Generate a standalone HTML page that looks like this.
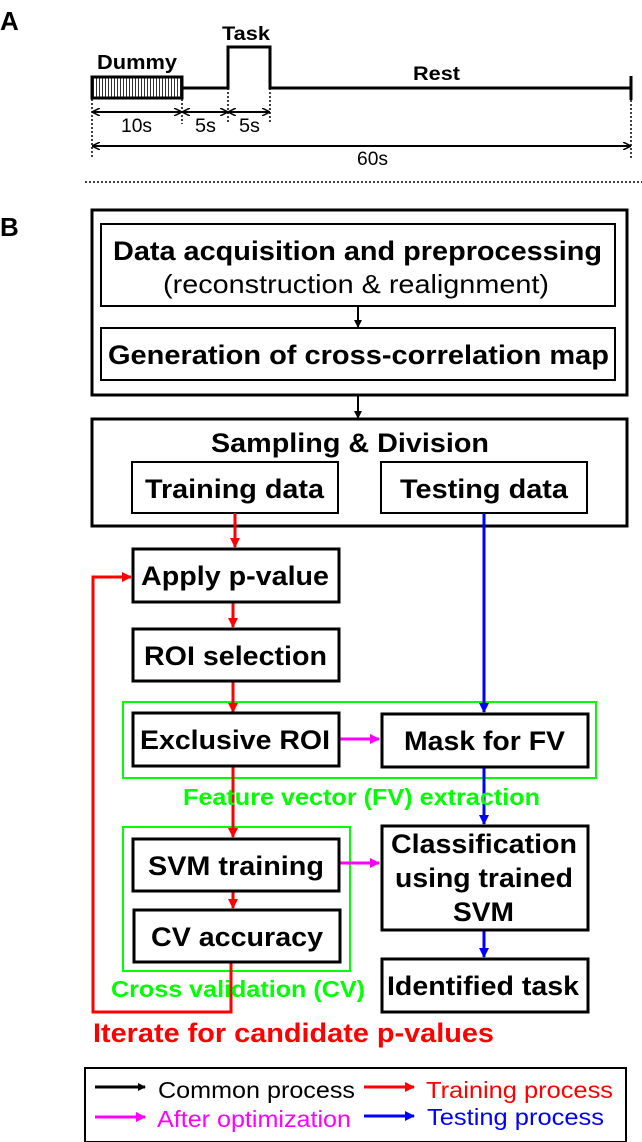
<!DOCTYPE html>
<html><head><meta charset="utf-8"><style>
html,body{margin:0;padding:0;background:#fff;}
svg{display:block;}
text{font-family:"Liberation Sans",Arial,sans-serif;}
.b{font-weight:bold;}
</style></head><body>
<svg width="642" height="1142" viewBox="0 0 642 1142" xmlns="http://www.w3.org/2000/svg">
<defs>
<pattern id="h" width="3" height="10" patternUnits="userSpaceOnUse"><rect width="3" height="10" fill="#fff"/><rect width="1" height="10" fill="#333"/></pattern>
<marker id="ak" markerWidth="8" markerHeight="8" refX="7" refY="4" orient="auto" markerUnits="userSpaceOnUse"><path d="M0,0 L8,4 L0,8 z" fill="#000"/></marker>
<marker id="ar" markerWidth="10" markerHeight="10" refX="9" refY="5" orient="auto" markerUnits="userSpaceOnUse"><path d="M0,0 L10,5 L0,10 z" fill="#f00"/></marker>
<marker id="ab" markerWidth="10" markerHeight="10" refX="9" refY="5" orient="auto" markerUnits="userSpaceOnUse"><path d="M0,0 L10,5 L0,10 z" fill="#00f"/></marker>
<marker id="am" markerWidth="10" markerHeight="10" refX="9" refY="5" orient="auto" markerUnits="userSpaceOnUse"><path d="M0,0 L10,5 L0,10 z" fill="#f0f"/></marker>
<marker id="ad" markerWidth="8" markerHeight="8" refX="7" refY="4" orient="auto-start-reverse" markerUnits="userSpaceOnUse"><path d="M0,0 L8,4 L0,8" fill="none" stroke="#000" stroke-width="1.5"/></marker>
</defs>

<!-- Panel A -->
<text x="0" y="30" class="b" font-size="26">A</text>
<text x="222" y="40" class="b" font-size="19" textLength="48" lengthAdjust="spacingAndGlyphs">Task</text>
<text x="97" y="69" class="b" font-size="20" textLength="80" lengthAdjust="spacingAndGlyphs">Dummy</text>
<text x="413" y="80" class="b" font-size="19" textLength="47" lengthAdjust="spacingAndGlyphs">Rest</text>
<rect x="92" y="77" width="90" height="21" fill="url(#h)" stroke="#000" stroke-width="3"/>
<polyline points="182,88 228,88 228,47 270,47 270,88 631,88" fill="none" stroke="#000" stroke-width="3"/>
<line x1="631" y1="76" x2="631" y2="100" stroke="#000" stroke-width="3"/>
<g stroke="#000" stroke-width="1.5" stroke-dasharray="2,2">
<line x1="92" y1="99" x2="92" y2="158"/><line x1="182" y1="99" x2="182" y2="124"/>
<line x1="228" y1="88" x2="228" y2="124"/><line x1="270" y1="88" x2="270" y2="124"/>
<line x1="631" y1="100" x2="631" y2="158"/>
<line x1="85" y1="182" x2="642" y2="182"/>
</g>
<g stroke="#000" stroke-width="2">
<line x1="93" y1="112" x2="181" y2="112" marker-start="url(#ad)" marker-end="url(#ad)"/>
<line x1="183" y1="112" x2="227" y2="112" marker-start="url(#ad)" marker-end="url(#ad)"/>
<line x1="229" y1="112" x2="269" y2="112" marker-start="url(#ad)" marker-end="url(#ad)"/>
<line x1="93" y1="146" x2="630" y2="146" marker-start="url(#ad)" marker-end="url(#ad)"/>
</g>
<g font-size="19">
<text x="121" y="132" textLength="31" lengthAdjust="spacingAndGlyphs">10s</text>
<text x="195" y="132" textLength="21" lengthAdjust="spacingAndGlyphs">5s</text>
<text x="239" y="132" textLength="21" lengthAdjust="spacingAndGlyphs">5s</text>
<text x="357" y="165" textLength="31" lengthAdjust="spacingAndGlyphs">60s</text>
</g>

<!-- Panel B -->
<text x="0" y="236" class="b" font-size="26">B</text>
<rect x="92" y="210" width="535" height="185" fill="none" stroke="#000" stroke-width="3"/>
<rect x="101" y="224" width="514" height="82" fill="none" stroke="#000" stroke-width="2"/>
<text x="113" y="260" class="b" font-size="27" textLength="489" lengthAdjust="spacingAndGlyphs">Data acquisition and preprocessing</text>
<text x="163" y="293" font-size="26" textLength="386" lengthAdjust="spacingAndGlyphs">(reconstruction &amp; realignment)</text>
<line x1="358" y1="306" x2="358" y2="327" stroke="#000" stroke-width="2" marker-end="url(#ak)"/>
<rect x="101" y="328" width="514" height="52" fill="none" stroke="#000" stroke-width="2"/>
<text x="108" y="364" class="b" font-size="27" textLength="501" lengthAdjust="spacingAndGlyphs">Generation of cross-correlation map</text>
<line x1="358" y1="395" x2="358" y2="418" stroke="#000" stroke-width="2" marker-end="url(#ak)"/>

<rect x="92" y="419" width="535" height="107" fill="none" stroke="#000" stroke-width="3"/>
<text x="211" y="452" class="b" font-size="27" textLength="278" lengthAdjust="spacingAndGlyphs">Sampling &amp; Division</text>
<rect x="132" y="462" width="206" height="51" fill="none" stroke="#000" stroke-width="2"/>
<text x="145" y="498" class="b" font-size="27" textLength="179" lengthAdjust="spacingAndGlyphs">Training data</text>
<rect x="381" y="462" width="206" height="51" fill="none" stroke="#000" stroke-width="2"/>
<text x="400" y="498" class="b" font-size="27" textLength="168" lengthAdjust="spacingAndGlyphs">Testing data</text>

<!-- green groups -->
<rect x="123" y="702" width="473" height="76" fill="none" stroke="#0f0" stroke-width="2"/>
<rect x="123" y="827" width="227" height="144" fill="none" stroke="#0f0" stroke-width="2"/>

<!-- red flow -->
<g stroke="#f00" stroke-width="3" fill="none">
<line x1="235" y1="513" x2="235" y2="547" marker-end="url(#ar)"/>
<line x1="233" y1="602" x2="233" y2="627" marker-end="url(#ar)"/>
<line x1="233" y1="681" x2="233" y2="712" marker-end="url(#ar)"/>
<line x1="233" y1="766" x2="233" y2="837" marker-end="url(#ar)"/>
<line x1="233" y1="891" x2="233" y2="908" marker-end="url(#ar)"/>
<polyline points="231,962 231,1012 93,1012 93,577 131,577" marker-end="url(#ar)"/>
</g>
<!-- blue flow -->
<g stroke="#00f" stroke-width="3" fill="none">
<line x1="484" y1="513" x2="484" y2="712" marker-end="url(#ab)"/>
<line x1="484" y1="767" x2="484" y2="824" marker-end="url(#ab)"/>
<line x1="484" y1="930" x2="484" y2="957" marker-end="url(#ab)"/>
</g>
<!-- magenta -->
<g stroke="#f0f" stroke-width="3" fill="none">
<line x1="340" y1="739" x2="379" y2="739" marker-end="url(#am)"/>
<line x1="340" y1="863" x2="379" y2="863" marker-end="url(#am)"/>
</g>

<g fill="#fff" stroke="#000" stroke-width="3">
<rect x="133" y="549" width="206" height="53"/>
<rect x="133" y="629" width="206" height="52"/>
<rect x="133" y="713" width="206" height="53"/>
<rect x="382" y="714" width="206" height="53"/>
<rect x="133" y="839" width="206" height="52"/>
<rect x="134" y="910" width="206" height="52"/>
<rect x="382" y="826" width="206" height="104"/>
<rect x="382" y="959" width="206" height="53"/>
</g>
<g class="b" font-size="27">
<text x="141" y="585" class="b" textLength="188" lengthAdjust="spacingAndGlyphs">Apply p-value</text>
<text x="144" y="665" class="b" textLength="183" lengthAdjust="spacingAndGlyphs">ROI selection</text>
<text x="140" y="749" class="b" textLength="190" lengthAdjust="spacingAndGlyphs">Exclusive ROI</text>
<text x="404" y="750" class="b" textLength="161" lengthAdjust="spacingAndGlyphs">Mask for FV</text>
<text x="148" y="875" class="b" textLength="176" lengthAdjust="spacingAndGlyphs">SVM training</text>
<text x="151" y="946" class="b" textLength="172" lengthAdjust="spacingAndGlyphs">CV accuracy</text>
<text x="391" y="853" class="b" textLength="186" lengthAdjust="spacingAndGlyphs">Classification</text>
<text x="395" y="887" class="b" textLength="178" lengthAdjust="spacingAndGlyphs">using trained</text>
<text x="453" y="921" class="b" textLength="61" lengthAdjust="spacingAndGlyphs">SVM</text>
<text x="387" y="995" class="b" textLength="192" lengthAdjust="spacingAndGlyphs">Identified task</text>
</g>
<text x="183" y="805" class="b" font-size="23" fill="#0f0" textLength="357" lengthAdjust="spacingAndGlyphs">Feature vector (FV) extraction</text>
<text x="111" y="997" class="b" font-size="23" fill="#0f0" textLength="254" lengthAdjust="spacingAndGlyphs">Cross validation (CV)</text>
<text x="93" y="1042" class="b" font-size="27" fill="#f00" textLength="401" lengthAdjust="spacingAndGlyphs">Iterate for candidate p-values</text>

<!-- Legend -->
<rect x="85" y="1068" width="541" height="74" fill="none" stroke="#000" stroke-width="2"/>
<g stroke-width="3">
<line x1="95" y1="1087" x2="145" y2="1087" stroke="#000" marker-end="url(#ak)"/>
<line x1="364" y1="1087" x2="414" y2="1087" stroke="#f00" marker-end="url(#ar)"/>
<line x1="95" y1="1117" x2="145" y2="1117" stroke="#f0f" marker-end="url(#am)"/>
<line x1="364" y1="1116" x2="414" y2="1116" stroke="#00f" marker-end="url(#ab)"/>
</g>
<g font-size="23">
<text x="158" y="1098" textLength="197" lengthAdjust="spacingAndGlyphs">Common process</text>
<text x="426" y="1098" fill="#f00" textLength="187" lengthAdjust="spacingAndGlyphs">Training process</text>
<text x="157" y="1127" fill="#f0f" textLength="194" lengthAdjust="spacingAndGlyphs">After optimization</text>
<text x="427" y="1125" fill="#00f" textLength="177" lengthAdjust="spacingAndGlyphs">Testing process</text>
</g>
</svg>
</body></html>
